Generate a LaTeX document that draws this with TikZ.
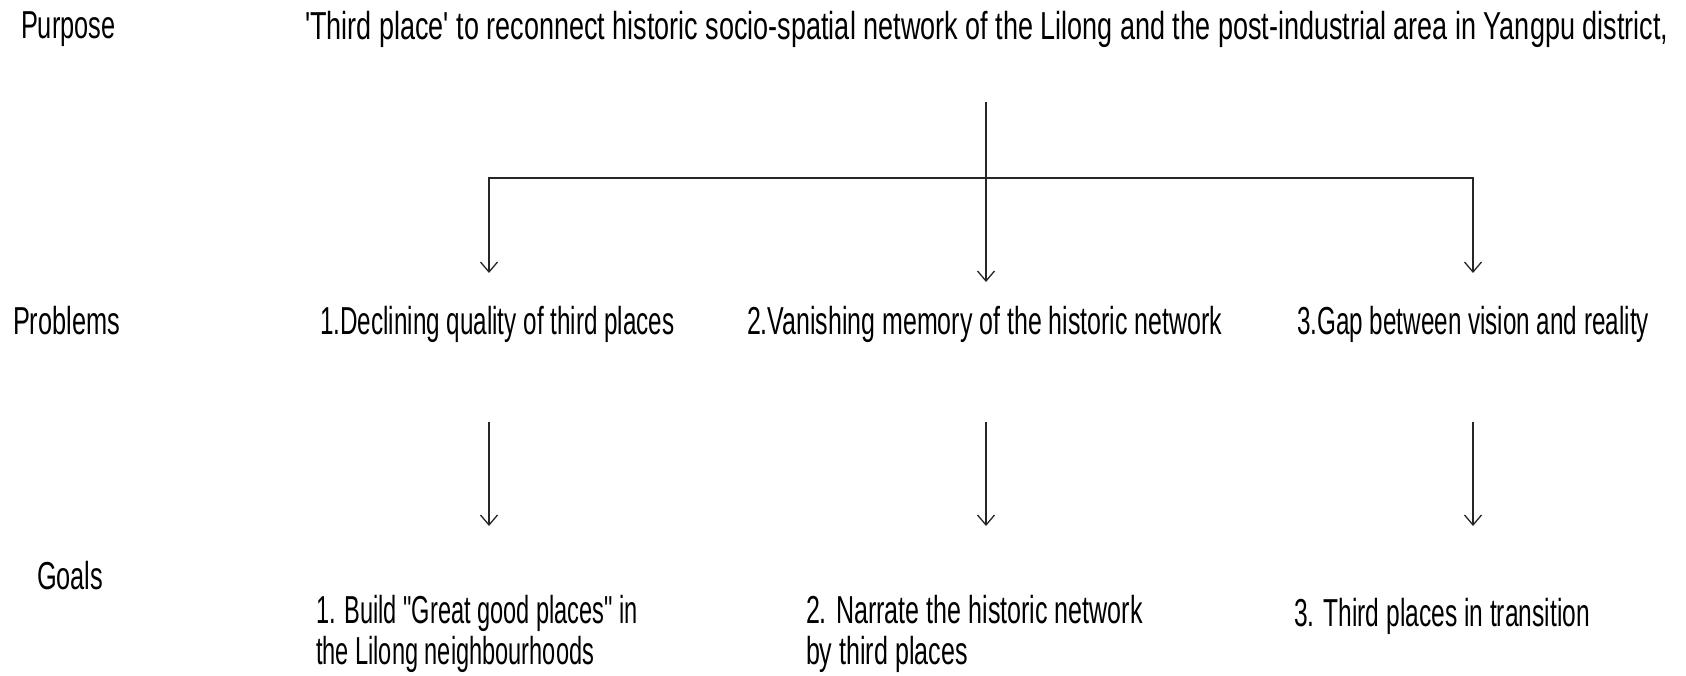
\documentclass[tikz,border=0pt]{standalone}
\usetikzlibrary{arrows.meta}
% condensed Liberation Sans, horizontal extent given as the argument
\newcommand\diagfont[1]{%
  \font\diagfontcur="Liberation Sans:extend=#1" at 39pt\relax
  \diagfontcur\baselineskip=41pt\relax}
\begin{document}
\begin{tikzpicture}[x=1pt,y=-1pt,
  txt/.style={inner sep=0pt, outer sep=0pt, anchor=base west,
    align=left, font=\diagfont{#1}},
  txt/.default=0.65,
  link/.style={draw=black!85, line width=1.3pt},
  arr/.style={link, -{Straight Barb[length=10pt,width=17pt]}}]
\useasboundingbox (0,0) rectangle (1686,675);

% row labels
\node[txt] (lpurpose)  at (21,38)  {Purpose};
\node[txt] (lproblems) at (13,334) {Problems};
\node[txt] (lgoals)    at (37,589) {Goals};

% purpose statement
\node[txt=0.693] (purpose) at (305,39)
  {'Third place' to reconnect historic socio-spatial network of the Lilong and the post-industrial area in Yangpu district,};

% problems
\node[txt=0.622] (p1) at (320,334)  {1.Declining quality of third places};
\node[txt=0.64]  (p2) at (747,334)  {2.Vanishing memory of the historic network};
\node[txt=0.622] (p3) at (1297,334) {3.Gap between vision and reality};

% goals (base anchor sits on the last line)
\node[txt=0.605] (g1) at (316,664)  {1. Build "Great good places" in\\the Lilong neighbourhoods};
\node[txt=0.643] (g2) at (806,664)  {2. Narrate the historic network\\by third places};
\node[txt=0.63]  (g3) at (1294,626) {3. Third places in transition};

% branching from the purpose to the three problems
\coordinate (stem)  at (986,102);
\coordinate (hubL)  at (489,178);
\coordinate (hubR)  at (1473,178);
\coordinate (tipL)  at (489,273);
\coordinate (tipC)  at (986,282);
\coordinate (tipR)  at (1473,273);
\draw[arr] (stem) -- (tipC);
\draw[link, {Straight Barb[length=10pt,width=17pt]}-{Straight Barb[length=10pt,width=17pt]}]
  (tipL) -- (hubL) -- (hubR) -- (tipR);

% from each problem to its goal
\foreach \x/\n in {489/1, 986/2, 1473/3}{
  \coordinate (from\n) at (\x,422);
  \coordinate (to\n)   at (\x,526);
  \draw[arr] (from\n) -- (to\n);
}
\end{tikzpicture}
\end{document}
